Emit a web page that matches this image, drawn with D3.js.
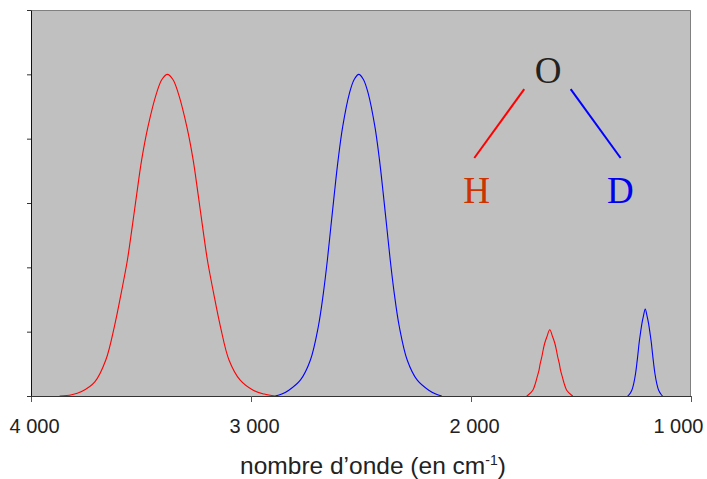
<!DOCTYPE html>
<html>
<head>
<meta charset="utf-8">
<script src="https://cdn.jsdelivr.net/npm/d3@7"></script>
<style>
  body { margin: 0; background: #fff; }
  svg { display: block; }
</style>
</head>
<body>
<div id="chart-area"></div>
<script>
// Dimensions
const margin = { left: 31, right: 16, top: 10, bottom: 83 };
const width = 707 - margin.left - margin.right;
const height = 479 - margin.top - margin.bottom;

// Spectrum data (wavenumber in cm-1, absorbance in arbitrary units)
// O-H stretch (red, large)
const ohStretchWn = [3870, 3815, 3770, 3710, 3660, 3621, 3590, 3562, 3540, 3519, 3497, 3468, 3430, 3405, 3380,
  3355, 3330, 3292, 3263, 3241, 3220, 3198, 3170, 3139, 3100, 3050, 2990, 2940, 2890];
const ohStretchAbs = [0.00, 0.02, 0.07, 0.22, 0.56, 1.08, 1.60, 2.11, 2.63, 3.15, 3.67, 4.19, 4.70, 4.92, 5.00,
  4.92, 4.70, 4.19, 3.67, 3.15, 2.63, 2.11, 1.60, 1.08, 0.56, 0.25, 0.09, 0.03, 0.00];

// O-D stretch (blue, large)
const odStretchWn = [2890, 2860, 2828, 2775, 2730, 2694, 2671, 2653, 2637, 2621, 2604, 2583, 2553, 2531, 2510,
  2489, 2467, 2437, 2416, 2399, 2383, 2367, 2349, 2326, 2290, 2245, 2192, 2160, 2133];
const odStretchAbs = [0.00, 0.03, 0.09, 0.25, 0.56, 1.08, 1.60, 2.11, 2.63, 3.15, 3.67, 4.19, 4.70, 4.92, 5.00,
  4.92, 4.70, 4.19, 3.67, 3.15, 2.63, 2.11, 1.60, 1.08, 0.56, 0.25, 0.09, 0.03, 0.00];

// H bending (red, small)
const ohBendWn = [1747, 1740, 1719, 1707, 1699, 1691, 1685, 1678, 1672, 1665, 1655, 1642,
  1629, 1619, 1612, 1606, 1599, 1593, 1585, 1577, 1565, 1544, 1537];
const ohBendAbs = [0.00, 0.016, 0.09, 0.20, 0.30, 0.40, 0.51, 0.61, 0.715, 0.82, 0.92, 1.03,
  0.92, 0.82, 0.715, 0.61, 0.51, 0.40, 0.30, 0.20, 0.09, 0.016, 0.00];

// D bending (blue, small)
const odBendWn = [1288, 1282, 1269, 1260, 1252, 1246, 1241, 1236, 1230, 1223, 1217, 1208,
  1199, 1193, 1186, 1180, 1175, 1170, 1164, 1156, 1147, 1134, 1129];
const odBendAbs = [0.00, 0.016, 0.09, 0.20, 0.35, 0.51, 0.66, 0.82, 0.97, 1.13, 1.23, 1.35,
  1.23, 1.13, 0.97, 0.82, 0.66, 0.51, 0.35, 0.20, 0.09, 0.016, 0.00];

// Axis ticks
const xTicks = [4000, 3000, 2000, 1000];
const yTicks = [0, 1, 2, 3, 4, 5, 6];
const xTitle = "nombre d\u2019onde (en cm";
const xTitleSup = "-1";

// Molecule sketch labels (data coordinates)
const atomLabels = ["O", "H", "D"];
const atomWn = [1649, 1974, 1321];
const atomAbs = [4.87, 3.0, 3.0];
const atomColors = ["#222222", "#cc3300", "#0000ee"];

// Series
const series = [
  { wn: ohStretchWn, abs: ohStretchAbs, color: "#ff0000" },
  { wn: odStretchWn, abs: odStretchAbs, color: "#0000ff" },
  { wn: ohBendWn, abs: ohBendAbs, color: "#ff0000" },
  { wn: odBendWn, abs: odBendAbs, color: "#0000ff" }
];

// Chart
const svg = d3.select("#chart-area")
  .append("svg")
    .attr("width", width + margin.left + margin.right)
    .attr("height", height + margin.top + margin.bottom);
const chart = svg.append("g")
  .attr("transform", "translate(" + margin.left + ", " + margin.top + ")");

// Scales
const xScale = d3.scaleLinear()
  .domain([4000, 1000]) // reversed, like a spectrum
  .range([0, width]);
const yScale = d3.scaleLinear()
  .domain([0, 6])
  .range([height, 0]);

// Plot background
chart.append("rect")
  .attr("width", width)
  .attr("height", height)
  .attr("fill", "#c0c0c0");

// top + right border
chart.append("path")
  .attr("d", "M0,0.5H" + (width - 0.5) + "V" + height)
  .attr("fill", "none")
  .attr("stroke", "#808080")
  .attr("stroke-width", 1);

// Curves
const line = d3.line()
  .x((d) => xScale(d[0]))
  .y((d) => Math.min(yScale(d[1]), height))
  .curve(d3.curveCatmullRom.alpha(0.5));

series.forEach((s) => {
  chart.append("path")
    .datum(s.wn.map((w, i) => [w, s.abs[i]]))
    .attr("fill", "none")
    .attr("stroke", s.color)
    .attr("stroke-width", 1.1)
    .attr("d", line);
});

// AXES
const spaceFormat = d3.formatLocale({ decimal: ",", thousands: " ", grouping: [3], currency: ["", ""] }).format(",");

const xAxisGroup = chart.append("g")
  .attr("transform", "translate(0," + height + ")");
xAxisGroup.call(d3.axisBottom(xScale)
  .tickValues(xTicks)
  .tickSize(6)
  .tickSizeOuter(0)
  .tickFormat(spaceFormat));
xAxisGroup.select(".domain").attr("stroke", "#333");
xAxisGroup.selectAll(".tick line").attr("stroke", "#555");
xAxisGroup.selectAll(".tick text")
  .attr("y", 37)
  .attr("dy", 0)
  .attr("dx", 3)
  .attr("fill", "#222")
  .style("font-family", "'Liberation Sans', Arial, sans-serif")
  .style("font-size", "20px");
// last label is pulled inside the window
xAxisGroup.selectAll(".tick text")
  .filter((d) => d === 1000)
  .attr("text-anchor", "end")
  .attr("dx", 12);

const yAxisGroup = chart.append("g");
yAxisGroup.call(d3.axisLeft(yScale)
  .tickValues(yTicks)
  .tickSize(4)
  .tickSizeOuter(0)
  .tickFormat(""));
yAxisGroup.select(".domain").attr("stroke", "#111");
yAxisGroup.selectAll(".tick line").attr("stroke", "#333");

// X Label
const xLabel = chart.append("text")
  .attr("x", width / 2 + 12)
  .attr("y", height + 78)
  .attr("text-anchor", "middle")
  .attr("fill", "#222")
  .style("font-family", "'Liberation Sans', Arial, sans-serif")
  .style("font-size", "24.5px");
xLabel.append("tspan").text(xTitle);
xLabel.append("tspan")
  .attr("dy", -9)
  .style("font-size", "14px")
  .text(xTitleSup);
xLabel.append("tspan")
  .attr("dy", 9)
  .text(")");

// Molecule sketch: O-H bond (red) and O-D bond (blue)
const bonds = [
  { from: [1758, 4.77], to: [1985, 3.70], color: "#ff0000" },
  { from: [1547, 4.77], to: [1320, 3.70], color: "#0000ff" }
];
bonds.forEach((b) => {
  chart.append("line")
    .attr("x1", xScale(b.from[0]))
    .attr("y1", yScale(b.from[1]))
    .attr("x2", xScale(b.to[0]))
    .attr("y2", yScale(b.to[1]))
    .attr("stroke", b.color)
    .attr("stroke-width", 2);
});

chart.selectAll(".atom")
  .data(atomLabels)
  .enter()
  .append("text")
    .attr("class", "atom")
    .attr("x", (d, i) => xScale(atomWn[i]))
    .attr("y", (d, i) => yScale(atomAbs[i]))
    .attr("text-anchor", "middle")
    .attr("fill", (d, i) => atomColors[i])
    .style("font-family", "'Liberation Serif', 'Times New Roman', serif")
    .style("font-size", "37px")
    .text((d) => d);
</script>
</body>
</html>
